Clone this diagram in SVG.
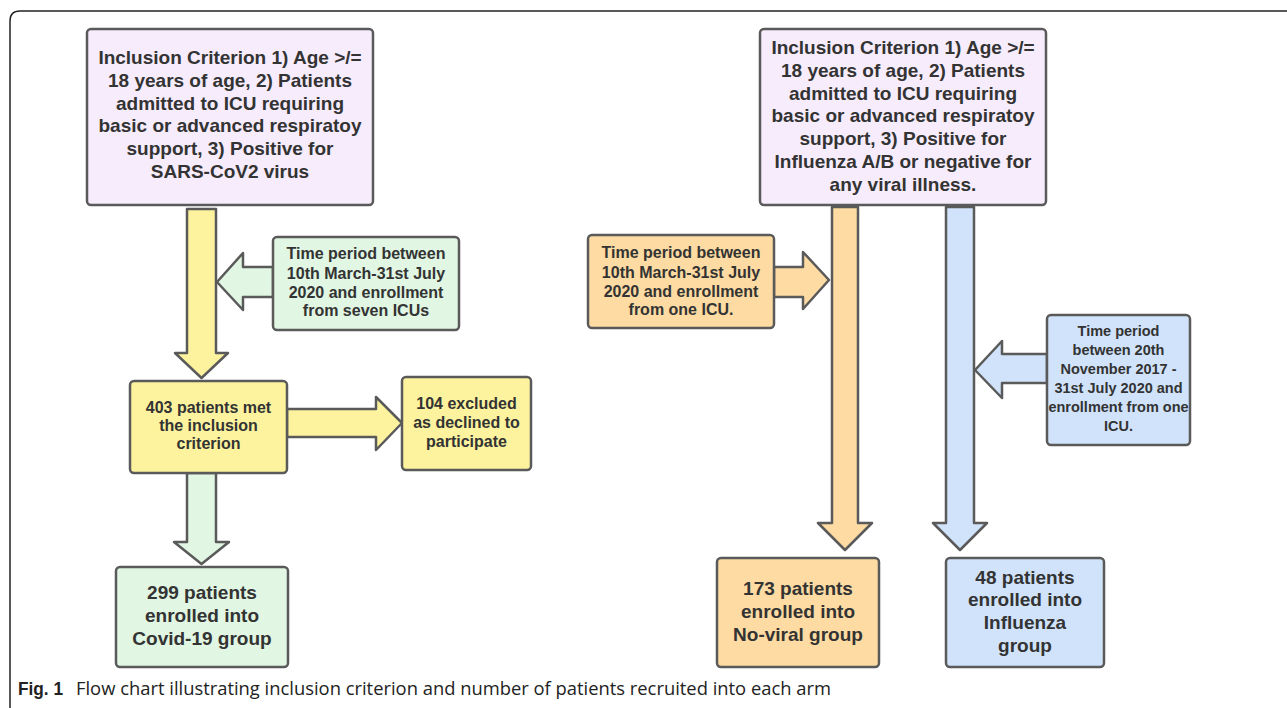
<svg xmlns="http://www.w3.org/2000/svg" width="1287" height="708" viewBox="0 0 1287 708">
<style>
.box{stroke:#5a5a5a;stroke-width:2.5}
.arr{stroke:#5a5a5a;stroke-width:2.5;stroke-linejoin:round}
.pu{fill:#f6ecfc}
.ye{fill:#fdf39f}
.gr{fill:#e1f6e3}
.or{fill:#fddba2}
.bl{fill:#d0e3fb}
text{font-family:"Liberation Sans",Arial,sans-serif;font-weight:bold;fill:#333;text-anchor:middle}
.big{font-size:19px}
.sm{font-size:16px}
.xs{font-size:14.5px}
.cap{font-family:"Open Sans","Liberation Sans",sans-serif;font-weight:normal;text-anchor:start;fill:#222;font-size:19px}
</style>
<rect width="1287" height="708" fill="#fff"/>
<path d="M10,708 V21 Q10,11 20,11 H1287" fill="none" stroke="#222" stroke-width="1.5"/>

<g id="connectors">
  <polygon class="arr ye" points="187,209 216,209 216,353 228,353 201.5,378 175,353 187,353"/>
  <polygon class="arr gr" points="273,267 243,267 243,253 217,282 243,310 243,297 273,297"/>
  <polygon class="arr ye" points="287,409 376,409 376,397 402,423 376,450 376,437 287,437"/>
  <polygon class="arr gr" points="187,473 216,473 216,542 229,542 201.5,564 174,542 187,542"/>
  <polygon class="arr or" points="774,267 803,267 803,252 829,280 803,309 803,297 774,297"/>
  <polygon class="arr or" points="832,207 858,207 858,523 872,523 845,550 818,523 832,523"/>
  <polygon class="arr bl" points="946,207 974,207 974,523 987,523 960,550 933,523 946,523"/>
  <polygon class="arr bl" points="1047,354 1002,354 1002,341 975,370 1002,398 1002,383 1047,383"/>
</g>

<g id="crit-covid">
  <rect class="box pu" x="87" y="29" width="286" height="176" rx="4"/>
  <text class="big" x="230" y="64">Inclusion Criterion 1) Age &gt;/=</text>
  <text class="big" x="230" y="87">18 years of age, 2) Patients</text>
  <text class="big" x="230" y="110">admitted to ICU requiring</text>
  <text class="big" x="230" y="132">basic or advanced respiratoy</text>
  <text class="big" x="230" y="155">support, 3) Positive for</text>
  <text class="big" x="230" y="178">SARS-CoV2 virus</text>
</g>

<g id="crit-flu">
  <rect class="box pu" x="760" y="29" width="286" height="176" rx="4"/>
  <text class="big" x="903" y="54">Inclusion Criterion 1) Age &gt;/=</text>
  <text class="big" x="903" y="77">18 years of age, 2) Patients</text>
  <text class="big" x="903" y="100">admitted to ICU requiring</text>
  <text class="big" x="903" y="122">basic or advanced respiratoy</text>
  <text class="big" x="903" y="145">support, 3) Positive for</text>
  <text class="big" x="903" y="168">Influenza A/B or negative for</text>
  <text class="big" x="903" y="191">any viral illness.</text>
</g>

<g id="time-covid">
  <rect class="box gr" x="273" y="237" width="186" height="93" rx="4"/>
  <text class="sm" x="366" y="259">Time period between</text>
  <text class="sm" x="366" y="279">10th March-31st July</text>
  <text class="sm" x="366" y="298">2020 and enrollment</text>
  <text class="sm" x="366" y="316">from seven ICUs</text>
</g>

<g id="met-criterion">
  <rect class="box ye" x="130" y="381" width="157" height="92" rx="4"/>
  <text class="sm" x="208.5" y="413">403 patients met</text>
  <text class="sm" x="208.5" y="431">the inclusion</text>
  <text class="sm" x="208.5" y="449">criterion</text>
</g>

<g id="excluded">
  <rect class="box ye" x="402" y="377" width="129" height="93" rx="4"/>
  <text class="sm" x="466.5" y="409">104 excluded</text>
  <text class="sm" x="466.5" y="428">as declined to</text>
  <text class="sm" x="466.5" y="447">participate</text>
</g>

<g id="covid-group">
  <rect class="box gr" x="116" y="567" width="172" height="100" rx="4"/>
  <text class="big" x="202" y="599">299 patients</text>
  <text class="big" x="202" y="622">enrolled into</text>
  <text class="big" x="202" y="645">Covid-19 group</text>
</g>

<g id="time-noviral">
  <rect class="box or" x="588" y="235" width="186" height="93" rx="4"/>
  <text class="sm" x="681" y="258">Time period between</text>
  <text class="sm" x="681" y="278">10th March-31st July</text>
  <text class="sm" x="681" y="297">2020 and enrollment</text>
  <text class="sm" x="681" y="315">from one ICU.</text>
</g>

<g id="time-flu">
  <rect class="box bl" x="1047" y="315" width="143" height="130" rx="4"/>
  <text class="xs" x="1118.5" y="336">Time period</text>
  <text class="xs" x="1118.5" y="355">between 20th</text>
  <text class="xs" x="1118.5" y="374">November 2017 -</text>
  <text class="xs" x="1118.5" y="393">31st July 2020 and</text>
  <text class="xs" x="1118.5" y="412">enrollment from one</text>
  <text class="xs" x="1118.5" y="431">ICU.</text>
</g>

<g id="noviral-group">
  <rect class="box or" x="717" y="558" width="162" height="109" rx="4"/>
  <text class="big" x="798" y="595">173 patients</text>
  <text class="big" x="798" y="618">enrolled into</text>
  <text class="big" x="798" y="641">No-viral group</text>
</g>

<g id="flu-group">
  <rect class="box bl" x="946" y="558" width="158" height="109" rx="4"/>
  <text class="big" x="1025" y="584">48 patients</text>
  <text class="big" x="1025" y="606">enrolled into</text>
  <text class="big" x="1025" y="629">Influenza</text>
  <text class="big" x="1025" y="652">group</text>
</g>

<g id="caption">
  <text x="18" y="695" style="text-anchor:start;font-size:19px;fill:#222" textLength="45" lengthAdjust="spacingAndGlyphs">Fig. 1</text>
  <text class="cap" x="76" y="695" textLength="755" lengthAdjust="spacingAndGlyphs">Flow chart illustrating inclusion criterion and number of patients recruited into each arm</text>
</g>
</svg>
